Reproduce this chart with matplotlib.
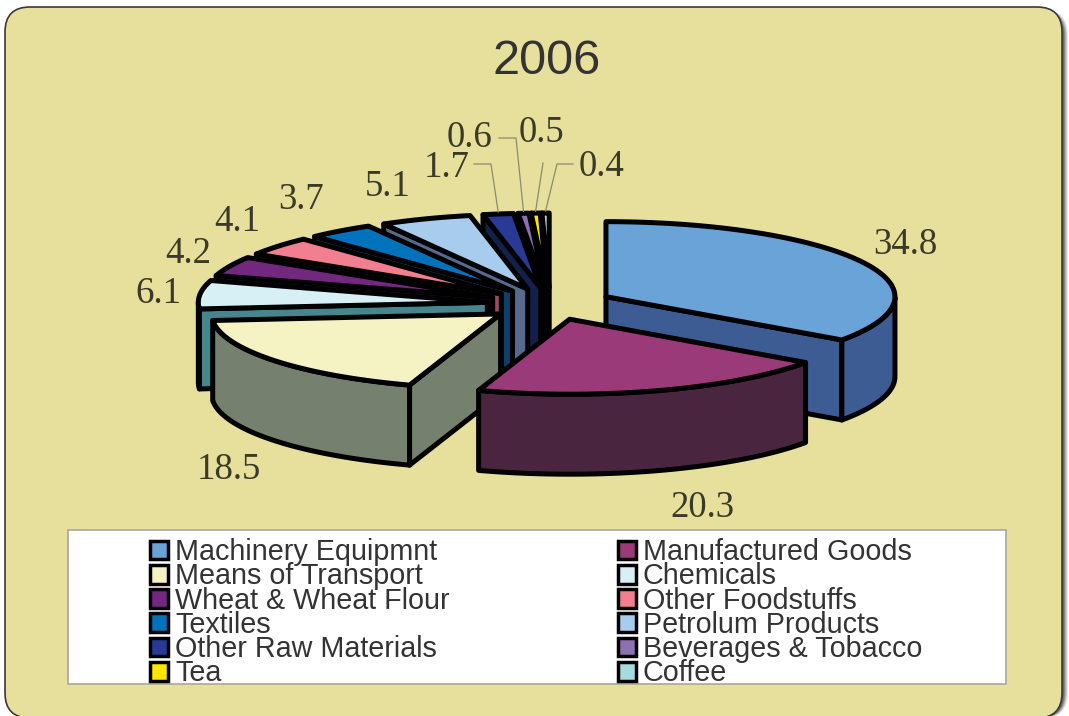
# 2006 exploded 3D pie, drawn in pixel coordinates of the page.
import numpy as np
import matplotlib
matplotlib.use("Agg")
from matplotlib import pyplot as plt
from matplotlib.patches import FancyBboxPatch, Patch, Polygon, Rectangle

# Data.
categories = ["Machinery Equipmnt", "Manufactured Goods", "Means of Transport", "Chemicals",
              "Wheat & Wheat Flour", "Other Foodstuffs", "Textiles", "Petrolum Products",
              "Other Raw Materials", "Beverages & Tobacco", "Tea", "Coffee"]
values = [34.8, 20.3, 18.5, 6.1, 4.2, 4.1, 3.7, 5.1, 1.7, 0.6, 0.5, 0.4]
top_colors = ["#6aa3d8", "#9b3a78", "#f5f2c4", "#d6f0f6", "#72287f", "#f27f8f",
              "#0272bc", "#a8cced", "#283a96", "#8c70b0", "#ffe600", "#a5dbe0"]
side_colors = ["#3d5c94", "#4a2540", "#75806e", "#47858f", "#2f1040", "#9c4a60",
               "#0e3f6a", "#566a8e", "#14204c", "#5a3d7a", "#6a6000", "#47858f"]

# Pie geometry, pixels.
CX, CY = 550, 304
RX, RY = 289, 75
DEPTH = 80
EX, EY = 63, 16   # Explosion distance.
EDGE = 3.6


def rim(ang, ox, oy):
    return ox + RX * np.sin(ang), oy - RY * np.cos(ang)


fig = plt.figure(figsize=(10.69, 7.16), dpi=100)
ax = fig.add_axes([0, 0, 1, 1])
ax.set_xlim(0, 1069)
ax.set_ylim(716, 0)
ax.axis("off")

# Panel with its drop shadow, which only shows on the right.
for grow, alpha in zip([6, 5, 4, 3, 2], [0.1, 0.15, 0.2, 0.3, 0.4]):
    ax.add_patch(FancyBboxPatch((5 + grow, 10), 1057, 708, boxstyle="round,pad=0,rounding_size=25",
                                fc="#303030", ec="none", alpha=alpha))
ax.add_patch(FancyBboxPatch((5, 7), 1057, 711, boxstyle="round,pad=0,rounding_size=25",
                            fc="#e7e09c", ec="#3a3a3a", lw=1.2))

ax.text(547, 62, "2006", family="Liberation Sans", fontsize=35, color="#333333", ha="center", va="center")

# Slice angles, clockwise from the top.
edges = np.cumsum([0] + values) / sum(values) * 2 * np.pi
mids = (edges[:-1] + edges[1:]) / 2

# Back slices first.
for i in np.argsort(-np.cos(mids)):
    a0, a1 = edges[i], edges[i + 1]
    ox = CX + EX * np.sin(mids[i])
    oy = CY - EY * np.cos(mids[i])
    t = np.linspace(a0, a1, 80)
    x, y = rim(t, ox, oy)

    # Cut faces.
    if np.sin(a0) < 0:
        sx, sy = rim(a0, ox, oy)
        ax.add_patch(Polygon([(ox, oy), (sx, sy), (sx, sy + DEPTH), (ox, oy + DEPTH)], fc=side_colors[i], ec="k", lw=EDGE, joinstyle="round"))
    if np.sin(a1) > 0:
        sx, sy = rim(a1, ox, oy)
        ax.add_patch(Polygon([(ox, oy), (sx, sy), (sx, sy + DEPTH), (ox, oy + DEPTH)], fc=side_colors[i], ec="k", lw=EDGE, joinstyle="round"))

    # Outer wall, only the part that faces the viewer.
    front = np.cos(t) <= 0
    if front.sum() > 1:
        xf, yf = x[front], y[front]
        wall = np.r_[np.c_[xf, yf], np.c_[xf[::-1], yf[::-1] + DEPTH]]
        ax.add_patch(Polygon(wall, fc=side_colors[i], ec="k", lw=EDGE, joinstyle="round"))

    # Top surface.
    ax.add_patch(Polygon(np.r_[[[ox, oy]], np.c_[x, y]], fc=top_colors[i], ec="k", lw=EDGE, joinstyle="round"))

# Value labels.
label_x = [905, 702, 229, 158, 188, 237, 301, 388, 447, 470, 541, 602]
label_y = [245, 508, 470, 294, 254, 222, 200, 187, 168, 138, 133, 167]
for v, lx, ly in zip(values, label_x, label_y):
    ax.text(lx, ly, f"{v:.1f}", family="Liberation Serif", fontsize=26.5, color="#3a3a28", ha="center", va="center")

# Leader lines for the small slices.
leader_i = [8, 9, 10, 11]
elbow_x = [[474, 491], [499, 516], [543, 543], [573, 557]]
elbow_y = [164, 138, 163, 164]
for i, ex, ey in zip(leader_i, elbow_x, elbow_y):
    ox = CX + EX * np.sin(mids[i])
    oy = CY - EY * np.cos(mids[i])
    rx, ry = rim(mids[i], ox, oy)
    ax.plot(ex + [rx], [ey, ey, ry - 2], color="#8a8a70", lw=0.9)

# Legend box and legend. Columns fill top to bottom, so take every other entry.
ax.add_patch(Rectangle((68, 530), 938, 154, fc="white", ec="#a8a8a0", lw=1.2))
handles = [Patch(fc=top_colors[i], ec="k", lw=2.5, label=categories[i]) for i in list(range(0, 12, 2)) + list(range(1, 12, 2))]
ax.legend(handles=handles, ncols=2, frameon=False, prop={"family": "Liberation Sans", "size": 20.7},
          labelcolor="#333333", loc="upper left", bbox_to_anchor=(130 / 1069, 1 - 518 / 716),
          borderpad=0.2, labelspacing=-0.13, handlelength=0.62, handleheight=0.62, handletextpad=0.25, columnspacing=5.85)

fig.savefig("out.png", dpi=100, facecolor="white")
